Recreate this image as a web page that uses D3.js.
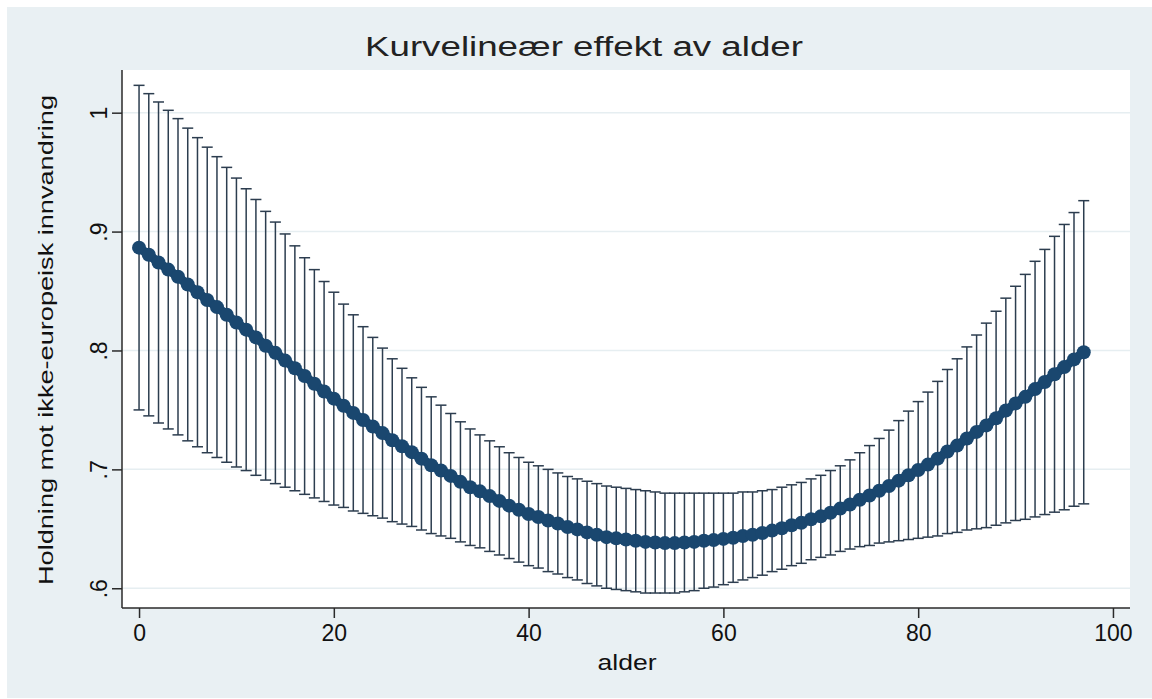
<!DOCTYPE html>
<html>
<head>
<meta charset="utf-8">
<script src="https://cdn.jsdelivr.net/npm/d3@7"></script>
<style>
  html, body { margin: 0; padding: 0; background: #fff; }
  svg text { font-family: "Liberation Sans", Arial, sans-serif; fill: #111; }
</style>
</head>
<body>
<svg id="chart" width="1152" height="699"></svg>
<script>
// alder 0..97, predicted margin with 95% CI
var ages = d3.range(0, 98);
var margin = [
  .8865, .8805, .874, .868, .862, .8555, .849, .8425, .8365, .830,
  .8235, .8175, .811, .804, .798, .7915, .785, .7785, .772, .7655,
  .7595, .7535, .7475, .7415, .736, .7305, .7245, .7195, .7145, .709,
  .7035, .699, .6945, .6895, .685, .6815, .6775, .6735, .6695, .666,
  .6625, .660, .657, .6545, .6515, .6495, .647, .645, .643, .642,
  .641, .640, .639, .6385, .638, .638, .6385, .639, .640, .6405,
  .6415, .6425, .644, .645, .6465, .6485, .6505, .653, .655, .658,
  .6605, .6635, .667, .6705, .6745, .678, .682, .686, .6905, .695,
  .6995, .704, .709, .715, .720, .726, .7315, .737, .743, .7495,
  .7555, .761, .7675, .7735, .780, .786, .7925, .7985
];
var ciLower = [
  .750, .745, .739, .734, .729, .724, .719, .714, .710, .706,
  .702, .699, .695, .691, .688, .685, .682, .679, .676, .673,
  .670, .668, .665, .663, .661, .659, .656, .654, .652, .649,
  .646, .644, .642, .639, .636, .634, .631, .628, .625, .622,
  .619, .617, .614, .612, .609, .607, .604, .602, .600, .599,
  .598, .597, .596, .596, .596, .596, .597, .598, .600, .601,
  .603, .605, .607, .609, .611, .614, .616, .619, .621, .624,
  .626, .628, .631, .633, .635, .636, .638, .639, .640, .641,
  .642, .643, .644, .646, .647, .649, .650, .651, .653, .655,
  .657, .658, .660, .662, .664, .666, .669, .671
];
var ciUpper = [
  1.023, 1.016, 1.009, 1.002, .995, .987, .979, .971, .963, .954,
  .945, .936, .927, .917, .908, .898, .888, .878, .868, .858,
  .849, .839, .830, .820, .811, .802, .793, .785, .777, .769,
  .761, .754, .747, .740, .734, .729, .724, .719, .714, .710,
  .706, .703, .700, .697, .694, .692, .690, .688, .686, .685,
  .684, .683, .682, .681, .680, .680, .680, .680, .680, .680,
  .680, .680, .681, .681, .682, .683, .685, .687, .689, .692,
  .695, .699, .703, .708, .714, .720, .726, .733, .741, .749,
  .757, .765, .774, .784, .793, .803, .813, .823, .833, .844,
  .854, .864, .875, .885, .896, .906, .916, .926
];
var xTicks = [0, 20, 40, 60, 80, 100];
var yTicks = [0.6, 0.7, 0.8, 0.9, 1];
var yTickLabels = [".6", ".7", ".8", ".9", "1"];

var svg = d3.select("#chart");

// plot region in pixels
var pLeft = 122, pRight = 1130, pTop = 70, pBottom = 608;

var x = d3.scaleLinear().domain([-1.75, 101.75]).range([pLeft, pRight]);
var y = d3.scaleLinear().domain([0.5834, 1.0359]).range([pBottom, pTop]);

var navy = "#1a476f";
var barColor = "#2c3d4f";

// graph region and plot region
svg.append("rect").attr("x", 7).attr("y", 7).attr("width", 1145).attr("height", 691)
  .attr("fill", "#e9f0f3");
svg.append("rect").attr("x", pLeft).attr("y", pTop)
  .attr("width", pRight - pLeft).attr("height", pBottom - pTop).attr("fill", "#fff");

// gridlines
svg.append("g").selectAll("line").data(yTicks).enter().append("line")
  .attr("x1", pLeft).attr("x2", pRight)
  .attr("y1", function(d){ return y(d); }).attr("y2", function(d){ return y(d); })
  .attr("stroke", "#e6eef1").attr("stroke-width", 1.5);

// confidence intervals
var capHalf = 5.5;
var bars = svg.append("g").attr("stroke", barColor).attr("stroke-width", 1.5)
  .selectAll("g").data(ages).enter().append("g");
bars.append("line")
  .attr("x1", function(a){ return x(a); }).attr("x2", function(a){ return x(a); })
  .attr("y1", function(a, i){ return y(ciLower[i]); })
  .attr("y2", function(a, i){ return y(ciUpper[i]); });
bars.append("line")
  .attr("x1", function(a){ return x(a) - capHalf; }).attr("x2", function(a){ return x(a) + capHalf; })
  .attr("y1", function(a, i){ return y(ciUpper[i]); })
  .attr("y2", function(a, i){ return y(ciUpper[i]); });
bars.append("line")
  .attr("x1", function(a){ return x(a) - capHalf; }).attr("x2", function(a){ return x(a) + capHalf; })
  .attr("y1", function(a, i){ return y(ciLower[i]); })
  .attr("y2", function(a, i){ return y(ciLower[i]); });

// predicted margins
var line = d3.line()
  .x(function(a){ return x(a); })
  .y(function(a, i){ return y(margin[i]); });
svg.append("path").datum(ages).attr("d", line)
  .attr("fill", "none").attr("stroke", navy).attr("stroke-width", 9)
  .attr("stroke-linejoin", "round");
svg.append("g").selectAll("circle").data(ages).enter().append("circle")
  .attr("cx", function(a){ return x(a); })
  .attr("cy", function(a, i){ return y(margin[i]); })
  .attr("r", 7).attr("fill", navy);

// axes
var yAxis = svg.append("g").attr("transform", "translate(" + pLeft + ",0)")
  .call(d3.axisLeft(y).tickValues(yTicks).tickSize(10)
    .tickFormat(function(d, i){ return yTickLabels[i]; }));
yAxis.select(".domain").attr("d", "M0," + pTop + "V" + pBottom);
yAxis.selectAll("text")
  .attr("x", 0).attr("y", 0).attr("dy", 0)
  .attr("text-anchor", "middle")
  .attr("transform", "translate(-15,0) rotate(-90)")
  .style("font-size", "23px");

var xAxis = svg.append("g").attr("transform", "translate(0," + pBottom + ")")
  .call(d3.axisBottom(x).tickValues(xTicks).tickSize(10).tickPadding(7));
xAxis.select(".domain").attr("d", "M" + pLeft + ",0H" + pRight);
xAxis.selectAll("text").style("font-size", "23px");

svg.selectAll(".domain, .tick line").attr("stroke", "#2a2a2a").attr("stroke-width", 1.5);
svg.selectAll(".tick text").attr("fill", "#111").style("font-family", "'Liberation Sans', Arial, sans-serif");

// titles
svg.append("text").attr("x", 584).attr("y", 56).attr("text-anchor", "middle")
  .attr("textLength", 438).attr("lengthAdjust", "spacingAndGlyphs")
  .style("font-size", "27px").style("fill", "#222")
  .text("Kurvelineær effekt av alder");

svg.append("text").attr("transform", "translate(53,340) rotate(-90)")
  .attr("text-anchor", "middle")
  .attr("textLength", 490).attr("lengthAdjust", "spacingAndGlyphs")
  .style("font-size", "20px")
  .text("Holdning mot ikke-europeisk innvandring");

svg.append("text").attr("x", 627).attr("y", 670).attr("text-anchor", "middle")
  .attr("textLength", 59).attr("lengthAdjust", "spacingAndGlyphs")
  .style("font-size", "22px")
  .text("alder");
</script>
</body>
</html>
